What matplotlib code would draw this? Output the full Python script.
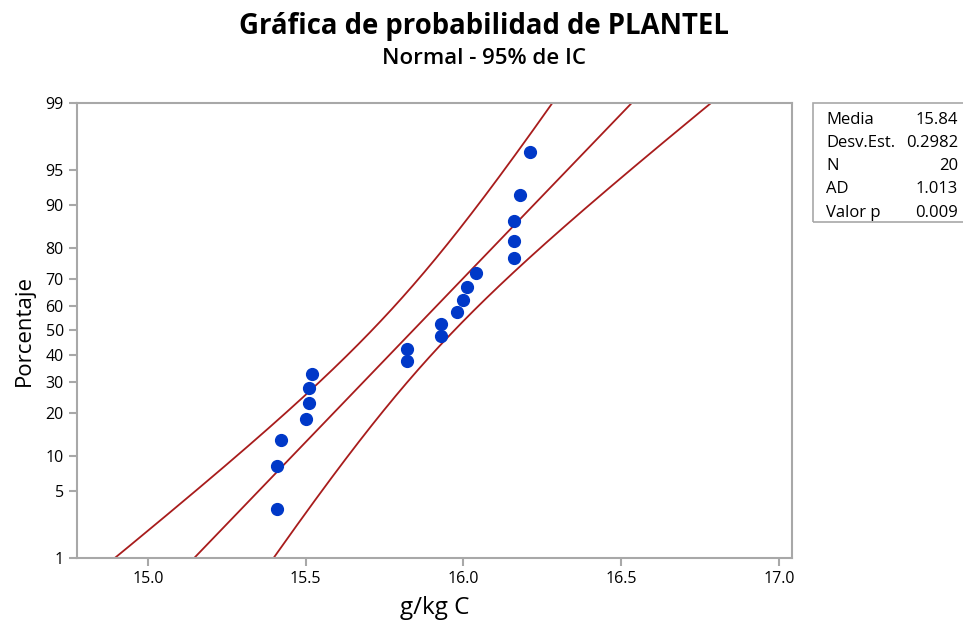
import numpy as np
import matplotlib
matplotlib.use('Agg')
import matplotlib.pyplot as plt
from matplotlib.patches import Rectangle
from statistics import NormalDist

# Datos (g/kg C, ordenados)
valores = [15.41, 15.41, 15.42, 15.50, 15.51, 15.51, 15.52, 15.82, 15.82, 15.93,
           15.93, 15.98, 16.00, 16.01, 16.04, 16.16, 16.16, 16.16, 16.18, 16.21]
media = 15.84
desv = 0.2982
n_obs = 20
ad_stat = 1.013
valor_p = 0.009

pct_ticks = [1, 5, 10, 20, 30, 40, 50, 60, 70, 80, 90, 95, 99]
x_ticks = [15.0, 15.5, 16.0, 16.5, 17.0]

stats_labels = ['Media', 'Desv.Est.', 'N', 'AD', 'Valor p']
stats_values = [f'{media:.2f}', f'{desv:.4f}', f'{n_obs}', f'{ad_stat:.3f}', f'{valor_p:.3f}']

plt.rcParams['font.family'] = ['Open Sans', 'DejaVu Sans']

nd = NormalDist()
def z_of(p):
    return nd.inv_cdf(p)

# posiciones de graficado (rango de mediana, como Minitab)
n = len(valores)
probs = [(i + 1 - 0.3) / (n + 0.4) for i in range(n)]
z_pts = [z_of(p) for p in probs]

# linea ajustada y bandas de confianza del 95%
z_line = np.linspace(-3, 3, 400)
x_fit = media + desv * z_line
z975 = z_of(0.975)
half = z975 * desv * np.sqrt(1.0 / n_obs + z_line ** 2 / (2.0 * n_obs))
x_lo = x_fit - half
x_hi = x_fit + half

fig = plt.figure(figsize=(9.63, 6.27), dpi=100)
ax = fig.add_axes([0.080, 0.110, 0.742, 0.726])

red = '#A81C1C'
ax.plot(x_fit, z_line, color=red, lw=1.3)
ax.plot(x_lo, z_line, color=red, lw=1.3)
ax.plot(x_hi, z_line, color=red, lw=1.3)
ax.plot(valores, z_pts, 'o', color='#0038C8', ms=8.5, mec='#0038C8', zorder=3)

ax.set_xlim(14.775, 17.04)
ax.set_ylim(z_of(0.01), z_of(0.99))
ax.set_xticks(x_ticks)
ax.set_xticklabels([f'{v:.1f}' for v in x_ticks])
ax.set_yticks([z_of(p / 100) for p in pct_ticks])
ax.set_yticklabels([str(p) for p in pct_ticks])

for s in ax.spines.values():
    s.set_color('#A8A8A8')
    s.set_linewidth(1.5)
ax.tick_params(axis='both', colors='#A8A8A8', labelcolor='black', length=6, width=1.5, labelsize=11.5)

ax.set_xlabel('g/kg C', fontsize=17.5, labelpad=6)
ax.set_ylabel('Porcentaje', fontsize=16, labelpad=8)

fig.text(0.503, 0.958, 'Gráfica de probabilidad de PLANTEL', ha='center', va='center',
         fontsize=19.8, fontweight='bold')
fig.text(0.503, 0.906, 'Normal - 95% de IC', ha='center', va='center',
         fontsize=16, fontweight='semibold')

# cuadro de estadisticos
fig.patches.append(Rectangle((813 / 963, 1 - 222 / 627), 0.2, (222 - 103) / 627,
                             transform=fig.transFigure, fill=False,
                             edgecolor='#A8A8A8', lw=1.2))
for i, (lab, val) in enumerate(zip(stats_labels, stats_values)):
    y = 1 - (119.5 + i * 23.3) / 627
    fig.text(826 / 963, y, lab, ha='left', va='center', fontsize=12)
    fig.text(958 / 963, y, val, ha='right', va='center', fontsize=12)

fig.savefig('out.png', dpi=100)
